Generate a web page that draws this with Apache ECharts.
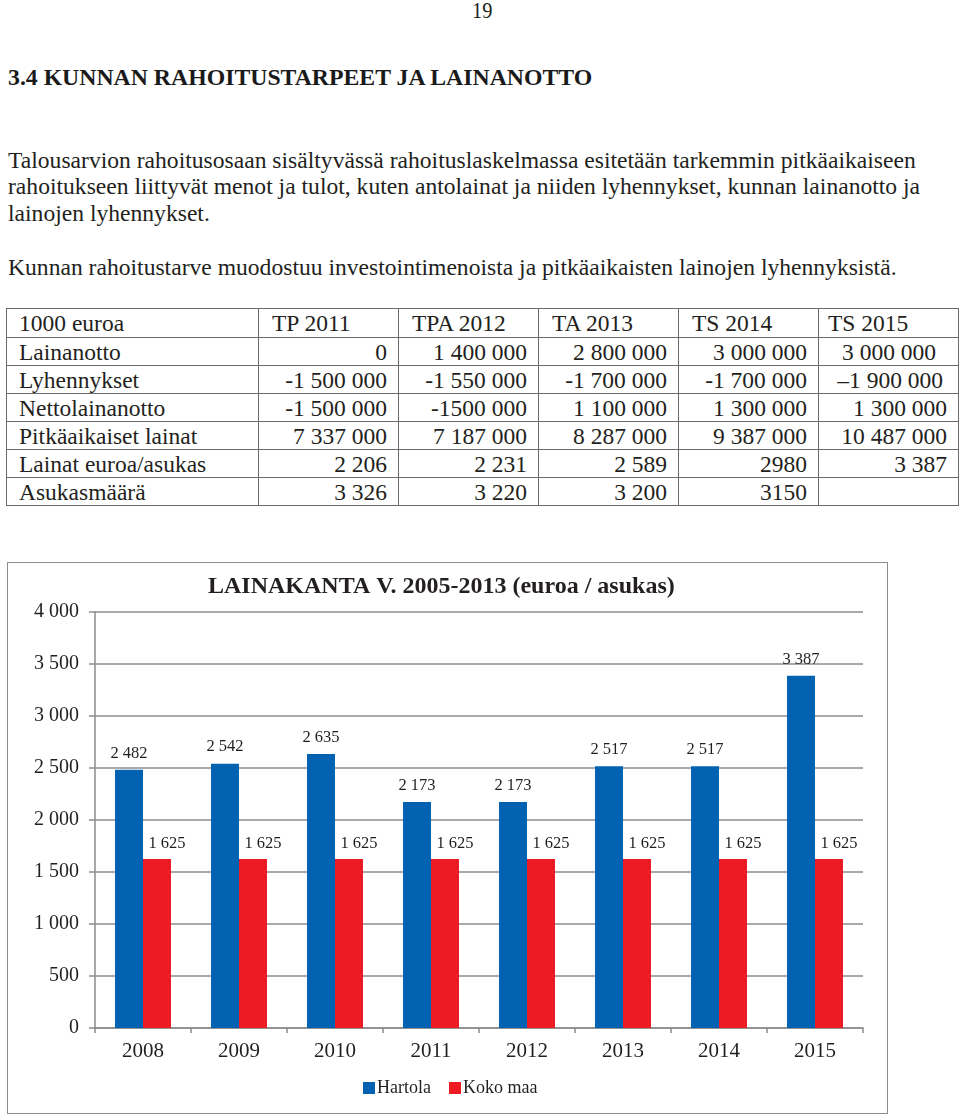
<!DOCTYPE html>
<html>
<head>
<meta charset="utf-8">
<script src="https://cdn.jsdelivr.net/npm/echarts@6/dist/echarts.min.js"></script>
<style>
  html, body { margin:0; padding:0; background:#fff; }
  body { width:960px; height:1115px; position:relative; overflow:hidden;
         font-family:"Liberation Serif", "DejaVu Serif", serif; color:#231f20; }
  .abs { position:absolute; white-space:nowrap; }
  #pagenum { left:472px; top:-3px; font-size:24px; transform:scaleX(0.85); transform-origin:left top; }
  #heading { left:8px; top:64px; font-size:24px; font-weight:bold; transform:scaleX(0.99); transform-origin:left top; color:#1a1a1a; }
  .body { font-size:23.6px; left:8px; line-height:26px; }
  table { position:absolute; left:6px; top:308px; border-collapse:collapse; font-size:23.5px; table-layout:fixed; }
  td { border:1px solid #6a6a6a; height:27px; padding:0 11px 0 10px; line-height:26px; white-space:nowrap; overflow:visible; }
  td.n { text-align:right; }
  td.h { text-align:left; }
  #chartbox { position:absolute; left:7px; top:562px; width:881px; height:552px;
              border:1.5px solid #8c8c8c; box-sizing:border-box; }
  #chart { position:absolute; left:0; top:0; width:878px; height:549px; }
</style>
</head>
<body>
<div id="pagenum" class="abs">19</div>
<div id="heading" class="abs">3.4 KUNNAN RAHOITUSTARPEET JA LAINANOTTO</div>
<div class="abs body" style="top:147px">Talousarvion rahoitusosaan sisältyvässä rahoituslaskelmassa esitetään tarkemmin pitkäaikaiseen</div>
<div class="abs body" style="top:173px">rahoitukseen liittyvät menot ja tulot, kuten antolainat ja niiden lyhennykset, kunnan lainanotto ja</div>
<div class="abs body" style="top:200px">lainojen lyhennykset.</div>
<div class="abs body" style="top:254px">Kunnan rahoitustarve muodostuu investointimenoista ja pitkäaikaisten lainojen lyhennyksistä.</div>

<table id="tbl"></table>

<div id="chartbox"><div id="chart"></div></div>

<script>
// ---- table data ----
const tableHeader = ["1000 euroa", "TP 2011", "TPA 2012", "TA 2013", "TS 2014", "TS 2015"];
const tableRows = [
  ["Lainanotto", "0", "1 400 000", "2 800 000", "3 000 000", "3 000 000"],
  ["Lyhennykset", "-1 500 000", "-1 550 000", "-1 700 000", "-1 700 000", "–1 900 000"],
  ["Nettolainanotto", "-1 500 000", "-1500 000", "1 100 000", "1 300 000", "1 300 000"],
  ["Pitkäaikaiset lainat", "7 337 000", "7 187 000", "8 287 000", "9 387 000", "10 487 000"],
  ["Lainat euroa/asukas", "2 206", "2 231", "2 589", "2980", "3 387"],
  ["Asukasmäärä", "3 326", "3 220", "3 200", "3150", ""]
];

// ---- chart data ----
const years = ["2008", "2009", "2010", "2011", "2012", "2013", "2014", "2015"];
const hartola = [2482, 2542, 2635, 2173, 2173, 2517, 2517, 3387];
const kokoMaa = [1625, 1625, 1625, 1625, 1625, 1625, 1625, 1625];
const seriesNames = ["Hartola", "Koko maa"];
const chartTitle = "LAINAKANTA V. 2005-2013 (euroa / asukas)";

// build table
(function(){
  const t = document.getElementById('tbl');
  const widths = [252, 140, 140, 140, 140, 140];
  let html = '<colgroup>' + widths.map(w => '<col style="width:' + w + 'px">').join('') + '</colgroup>';
  html += '<tr>';
  tableHeader.forEach((h, i) => {
    html += '<td class="h" style="height:28px;padding-left:' + (i === 0 ? 12 : (i === 5 ? 9 : 13)) + 'px">' + h + '</td>';
  });
  html += '</tr>';
  tableRows.forEach(r => {
    html += '<tr>';
    r.forEach((c, i) => {
      let extra = '';
      if (i === 0) extra = 'padding-left:12px;';
      if (i === 5 && (c === '3 000 000')) extra = 'padding-right:22px;';
      if (i === 5 && (c === '–1 900 000')) extra = 'padding-right:15px;';
      html += '<td class="' + (i === 0 ? 'h' : 'n') + '" style="' + extra + '">' + c + '</td>';
    });
    html += '</tr>';
  });
  t.innerHTML = html;
})();

function fmt(v) {
  return String(v).replace(/\B(?=(\d{3})+(?!\d))/g, ' ');
}

const chart = echarts.init(document.getElementById('chart'), null, { renderer: 'canvas' });
const FONT = '"Liberation Serif", "DejaVu Serif", serif';
chart.setOption({
  animation: false,
  color: ['#0062B0', '#ED1C24'],
  title: {
    text: chartTitle,
    left: 195, top: 7,
    textStyle: { fontFamily: FONT, fontSize: 24, fontWeight: 'bold', color: '#231f20' }
  },
  legend: {
    data: seriesNames,
    left: 350, top: 511,
    itemWidth: 12, itemHeight: 12, itemGap: 18,
    icon: 'rect',
    textStyle: { fontFamily: FONT, fontSize: 18, color: '#231f20', padding: [0, 0, 0, -3] }
  },
  grid: { left: 87, top: 49, width: 768, height: 416, containLabel: false },
  xAxis: {
    type: 'category',
    data: years,
    axisLine: { lineStyle: { color: '#8c8c8c', width: 1.5 } },
    axisTick: { show: true, length: 5, lineStyle: { color: '#8c8c8c', width: 1.5 } },
    axisLabel: { fontFamily: FONT, fontSize: 21, color: '#231f20', margin: 13 }
  },
  yAxis: {
    type: 'value',
    min: 0, max: 4000, interval: 500,
    axisLine: { show: true, lineStyle: { color: '#8c8c8c', width: 1.5 } },
    axisTick: { show: true, length: 6, lineStyle: { color: '#8c8c8c', width: 1.5 } },
    splitLine: { lineStyle: { color: '#8c8c8c', width: 1.5 } },
    axisLabel: { fontFamily: FONT, fontSize: 20, color: '#231f20', margin: 16, formatter: fmt }
  },
  series: [
    {
      name: seriesNames[0], type: 'bar', data: hartola, barWidth: 28, barGap: '0%',
      label: { show: true, position: 'top', distance: 8, fontFamily: FONT, fontSize: 16.5, color: '#231f20', formatter: p => fmt(p.value) }
    },
    {
      name: seriesNames[1], type: 'bar', data: kokoMaa, barWidth: 28, barGap: '0%',
      label: { show: true, position: 'top', distance: 7, offset: [10, 0], fontFamily: FONT, fontSize: 16.5, color: '#231f20', formatter: p => fmt(p.value) }
    }
  ]
});
</script>
</body>
</html>
